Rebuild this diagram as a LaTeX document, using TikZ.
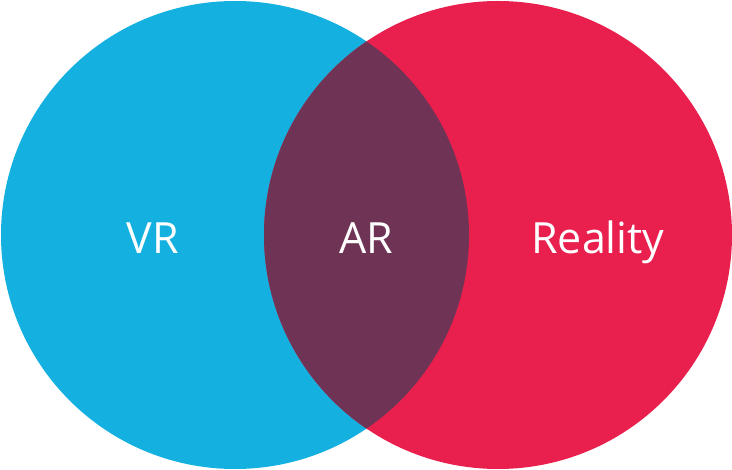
\documentclass[tikz,border=0pt]{standalone}
\usepackage{fontspec}
\setmainfont{Open Sans}
\definecolor{VRClr}{HTML}{13B0E0}
\definecolor{RealClr}{HTML}{E91F4E}
\definecolor{ARClr}{HTML}{6F3455}
\tikzset{label text/.style={text=white,anchor=base,font=\fontsize{43}{50}\selectfont}}
\begin{document}
\begin{tikzpicture}[x=1pt,y=-1pt]
\useasboundingbox (0,0) rectangle (732,470);

\fill[VRClr] (235,235) circle (234);
\fill[RealClr] (498,235) circle (234);
\begin{scope}
\clip (235,235) circle (234);
\fill[ARClr] (498,235) circle (234);
\end{scope}

\node[label text] (vr) at (153,254) {VR};
\node[label text] (ar) at (366,254) {AR};
\node[label text] (real) at (598,254) {Reality};
\end{tikzpicture}
\end{document}
